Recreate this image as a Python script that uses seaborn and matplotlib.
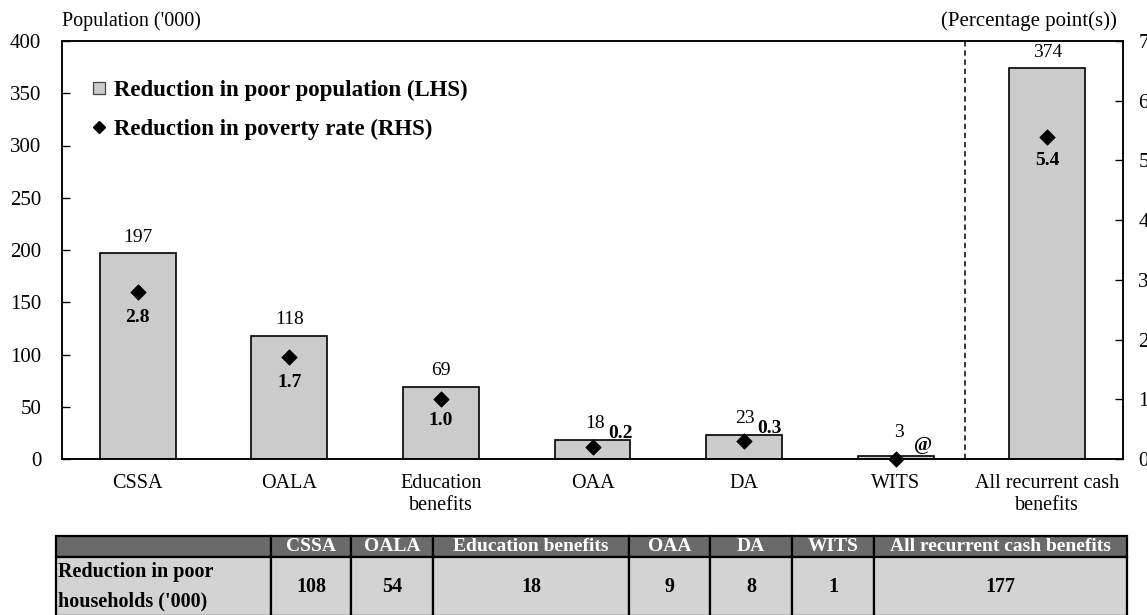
import numpy as np
import pandas as pd
import matplotlib
matplotlib.use("Agg")
import matplotlib.pyplot as plt
import seaborn as sns
from matplotlib.lines import Line2D

# ---- data -------------------------------------------------------------
categories = ["CSSA", "OALA", "Education benefits", "OAA", "DA", "WITS",
              "All recurrent cash benefits"]
tick_labels = ["CSSA", "OALA", "Education\nbenefits", "OAA", "DA", "WITS",
               "All recurrent cash\nbenefits"]
poor_population_cut = [197, 118, 69, 18, 23, 3, 374]        # '000 persons (LHS)
poverty_rate_cut = [2.8, 1.7, 1.0, 0.2, 0.3, 0.0, 5.4]      # percentage points (RHS)
poverty_rate_text = ["2.8", "1.7", "1.0", "0.2", "0.3", "@", "5.4"]
poor_households_cut = [108, 54, 18, 9, 8, 1, 177]           # '000 households
table_row_label = "Reduction in poor\nhouseholds ('000)"

# ---- label placement (pixel offsets) ----------------------------------
value_offsets = [(0, 16), (0, 16), (0, 16), (3, 17), (1, 16), (3, 23), (0, 16)]
rate_offsets = [(0, -26), (0, -25), (0, -21), (28, 14), (25, 13), (27, 13), (0, -24)]

# ---- style ------------------------------------------------------------
sns.set_theme(style="ticks")
plt.rcParams["font.family"] = ["Liberation Serif", "DejaVu Serif"]
plt.rcParams["axes.edgecolor"] = "black"
plt.rcParams["text.color"] = "black"
plt.rcParams["xtick.color"] = "black"
plt.rcParams["ytick.color"] = "black"

BAR_GREY = "#cbcbcb"
W, H = 1147, 615

fig = plt.figure(figsize=(W / 100, H / 100), dpi=100)
fig.patch.set_facecolor("white")
ax = fig.add_axes([62 / W, 1 - 459 / H, 1061 / W, 418 / H])

df = pd.DataFrame({"benefit": categories,
                   "population": poor_population_cut,
                   "rate": poverty_rate_cut})

sns.barplot(data=df, x="benefit", y="population", order=categories,
            color=BAR_GREY, saturation=1, width=0.5, errorbar=None,
            edgecolor="black", linewidth=1.2, ax=ax)

ax.set_xlim(-0.5, 6.5)
ax.set_ylim(0, 400)
ax.set_yticks(np.arange(0, 401, 50))
ax.set_xticks(np.arange(len(categories)))
ax.set_xticklabels(tick_labels)
ax.set_xlabel("")
ax.set_ylabel("")
ax.tick_params(axis="y", direction="in", length=6, width=1, pad=15, labelsize=15)
ax.tick_params(axis="x", length=0, pad=11, labelsize=14.5)
for s in ax.spines.values():
    s.set_visible(True)
    s.set_color("black")
    s.set_linewidth(1.1)

# separator between individual items and the total
ax.axvline(5.46, color="black", lw=1.1, ls=(0, (3.5, 2.5)))

# bar value labels
for i, v in enumerate(poor_population_cut):
    dx, dy = value_offsets[i]
    ax.annotate(str(v), (i, v), xytext=(dx, dy), textcoords="offset pixels",
                ha="center", va="center", fontsize=14)

# ---- poverty-rate diamonds on the right axis ---------------------------
ax2 = ax.twinx()
sns.scatterplot(x=np.arange(len(categories)), y=poverty_rate_cut, marker="D",
                s=62, color="black", edgecolor="black", linewidth=0.5,
                legend=False, ax=ax2, zorder=4, clip_on=False)
ax2.set_ylim(0, 7)
ax2.set_yticks(np.arange(0, 8, 1))
ax2.set_ylabel("")
ax2.tick_params(axis="y", direction="in", length=6, width=1, pad=11, labelsize=15)
for s in ax2.spines.values():
    s.set_color("black")
    s.set_linewidth(1.1)

for i, r in enumerate(poverty_rate_cut):
    dx, dy = rate_offsets[i]
    ax2.annotate(poverty_rate_text[i], (i, r), xytext=(dx, dy),
                 textcoords="offset pixels", ha="center", va="center",
                 fontsize=14, fontweight="bold")

# legend
handles = [
    Line2D([], [], ls="none", marker="s", ms=8, mfc=BAR_GREY, mec="#444444",
           mew=0.9, label="Reduction in poor population (LHS)"),
    Line2D([], [], ls="none", marker="D", ms=6.5, mfc="black", mec="black",
           label="Reduction in poverty rate (RHS)"),
]
ax2.legend(handles=handles, loc="upper left", bbox_to_anchor=(0.027, 0.907),
           frameon=False, prop={"weight": "bold", "size": 16.5},
           handlelength=0.7, handletextpad=0.3, labelspacing=0.78,
           borderaxespad=0, borderpad=0)

# axis titles
fig.text(62 / W, 1 - 21 / H, "Population ('000)", ha="left", va="center",
         fontsize=14.5)
fig.text(1117 / W, 1 - 21 / H, "(Percentage point(s))", ha="right",
         va="center", fontsize=15)

# ---- table of poor households ------------------------------------------
col_px = [215, 80, 82, 196, 81, 82, 82, 253]
tab_top, tab_bottom = 536, 616
tax = fig.add_axes([56 / W, 1 - tab_bottom / H, sum(col_px) / W,
                    (tab_bottom - tab_top) / H])
tax.axis("off")
header = [""] + categories
body = [table_row_label] + [str(v) for v in poor_households_cut]
table = tax.table(cellText=[header, body], colWidths=[c / sum(col_px) for c in col_px],
                  cellLoc="center", bbox=[0, 0, 1, 1])
table.auto_set_font_size(False)
head_h, body_h = 21, tab_bottom - tab_top - 21
for (r, c), cell in table.get_celld().items():
    cell.set_edgecolor("black")
    cell.set_linewidth(1.6)
    cell.set_height((head_h if r == 0 else body_h) / (tab_bottom - tab_top))
    txt = cell.get_text()
    txt.set_fontweight("bold")
    if r == 0:
        cell.set_facecolor("#6a6a6a")
        txt.set_color("white")
        txt.set_fontsize(14)
    else:
        cell.set_facecolor("#d3d3d3")
        txt.set_color("black")
        txt.set_fontsize(14.5)
        if c == 0:
            cell.set_text_props(ha="left", linespacing=1.6)
            cell.PAD = 0.01

fig.savefig("out.png", dpi=100, facecolor="white")
